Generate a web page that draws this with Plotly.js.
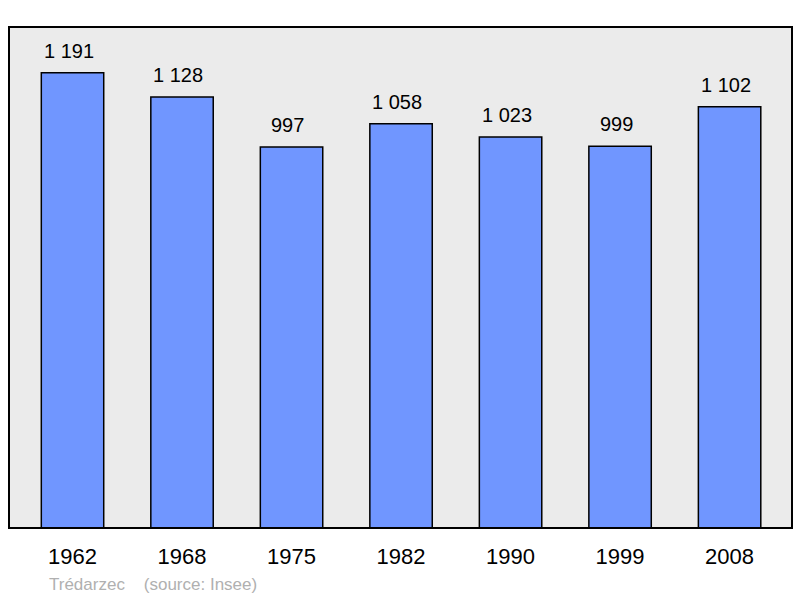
<!DOCTYPE html>
<html>
<head>
<meta charset="utf-8">
<script src="https://cdn.plot.ly/plotly-3.0.1.min.js"></script>
<style>html,body{margin:0;padding:0;background:#fff;}#chart{width:800px;height:598px;}</style>
</head>
<body>
<div id="chart"></div>
<script>
const years = ["1962", "1968", "1975", "1982", "1990", "1999", "2008"];
const population = [1191, 1128, 997, 1058, 1023, 999, 1102];
const valueLabels = ["1 191", "1 128", "997", "1 058", "1 023", "999", "1 102"];
const footerText = "Trédarzec    (source: Insee)";

const trace = {
  type: "bar",
  x: years,
  y: population,
  width: 0.57,
  marker: { color: "#7096ff", line: { color: "#000", width: 1.5 } },
  hoverinfo: "none"
};

const annotations = years.map((yr, i) => ({
  x: i, y: population[i], xref: "x", yref: "y",
  text: valueLabels[i], showarrow: false, yanchor: "bottom", yshift: 9, xshift: -4,
  font: { family: "Liberation Sans, Arial, sans-serif", size: 20, color: "#000" }
}));
annotations.push({
  xref: "paper", yref: "paper", x: 0.049, y: -0.112, xanchor: "left", yanchor: "middle",
  text: footerText, showarrow: false,
  font: { family: "Liberation Sans, Arial, sans-serif", size: 17, color: "#b0b0b0" }
});

const layout = {
  width: 800, height: 598,
  margin: { l: 9, r: 8, t: 27, b: 70 },
  paper_bgcolor: "#ffffff",
  plot_bgcolor: "#ebebeb",
  showlegend: false,
  xaxis: {
    type: "category", range: [-0.58, 6.57], showgrid: false, zeroline: false, showline: false,
    ticks: "outside", ticklen: 9, tickcolor: "rgba(0,0,0,0)",
    tickfont: { family: "Liberation Sans, Arial, sans-serif", size: 22, color: "#000" }
  },
  yaxis: { range: [0, 1311], showgrid: false, zeroline: false, showticklabels: false, showline: false },
  shapes: [{
    type: "rect", xref: "paper", yref: "paper", x0: 0, x1: 1, y0: 0, y1: 1,
    line: { color: "#000", width: 2 }, fillcolor: "rgba(0,0,0,0)", layer: "above"
  }],
  annotations: annotations
};

Plotly.newPlot("chart", [trace], layout, { staticPlot: true, displayModeBar: false });
</script>
</body>
</html>
